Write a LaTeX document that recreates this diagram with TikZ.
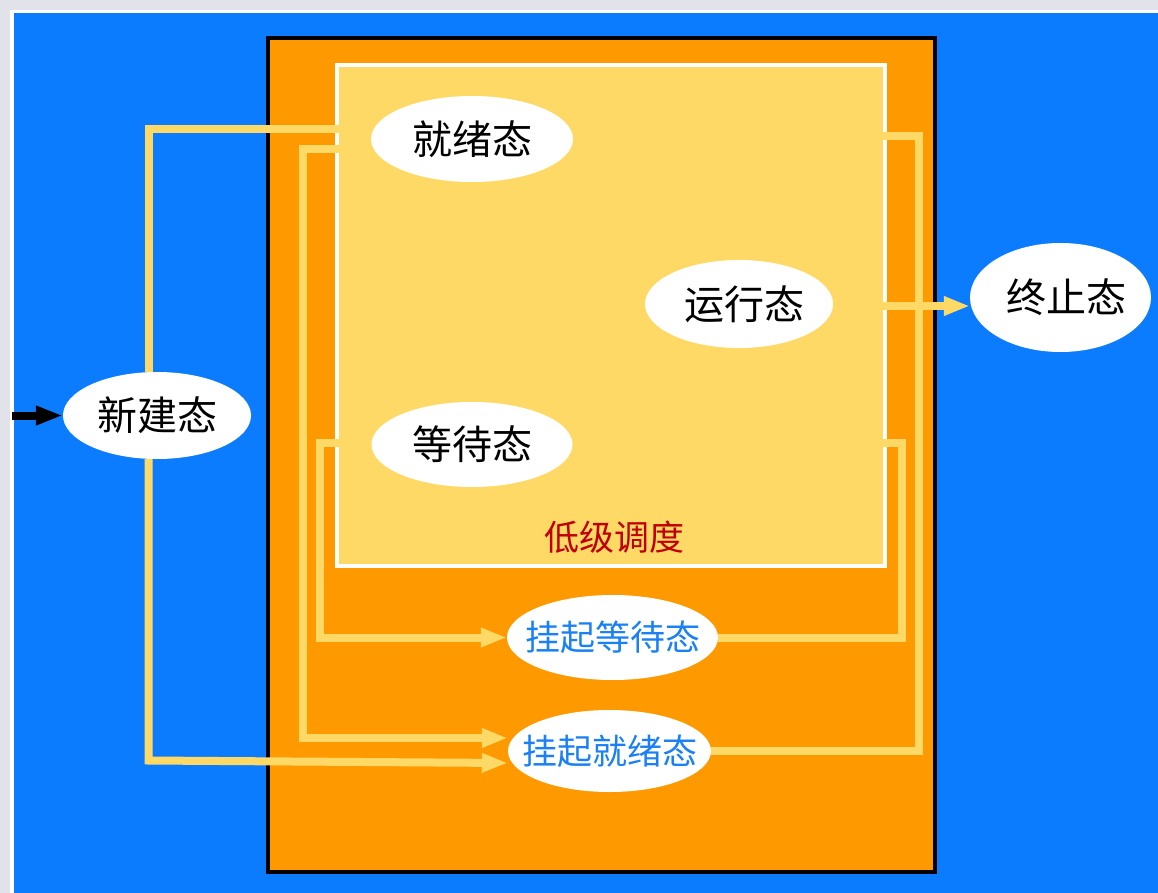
\documentclass[tikz,border=0pt]{standalone}
\usepackage{fontspec}
\setmainfont{Noto Sans CJK SC}
\usetikzlibrary{shapes.geometric,arrows.meta}
\definecolor{bgblue}{HTML}{0C7CFF}
\definecolor{orng}{HTML}{FF9900}
\definecolor{ltyel}{HTML}{FFD966}
\definecolor{linecol}{HTML}{FFD966}
\definecolor{txtblue}{HTML}{1A80F5}
\definecolor{txtred}{HTML}{C00000}
\definecolor{pagegrey}{HTML}{E2E2EA}
\begin{document}
\begin{tikzpicture}[x=1pt,y=-1pt,
  st/.style={ellipse, fill=white, inner sep=-40pt, text=black, font=\fontsize{40}{44}\selectfont},
  sus/.style={st, text=txtblue, font=\fontsize{35}{40}\selectfont},
  conn/.style={draw=linecol, line width=8pt},
  yarrow/.style={conn, -{Triangle[length=26pt,width=18pt]}},
  karrow/.style={draw=black, line width=8pt, -{Triangle[length=27pt,width=18pt]}}
]
\useasboundingbox (0,0) rectangle (1158,893);
% page background
\fill[pagegrey] (0,0) rectangle (1158,893);
\fill[white] (10,10) rectangle (1158,893);
\fill[bgblue] (14,13) rectangle (1158,893);
% orange box
\draw[line width=4.5pt, fill=orng] (268,38) rectangle (935,872);
% inner low-level scheduling box
\draw[draw=white, line width=4pt, fill=ltyel] (336.5,65.5) rectangle (884.5,566);
\node[text=txtred, font=\fontsize{35}{40}\selectfont] (lowlbl) at (614,537) {低级调度};

% states
\node[st, minimum width=202pt, minimum height=86pt] (ready) at (472,139) {就绪态};
\node[st, minimum width=188pt, minimum height=88pt] (run) at (739,304) {\hspace*{10pt}运行态};
\node[st, minimum width=181pt, minimum height=109pt] (term) at (1060.5,297.5) {\hspace*{12pt}终止态};
\node[st, minimum width=188pt, minimum height=87pt] (new) at (157,415.5) {新建态};
\node[st, minimum width=201pt, minimum height=85pt] (wait) at (472,444.5) {等待态};
\node[sus, minimum width=211pt, minimum height=85pt] (susw) at (612.5,637.5) {挂起等待态};
\node[sus, minimum width=203pt, minimum height=82pt] (susr) at (609.5,751) {挂起就绪态};

% free ends at the inner box border
\coordinate (rdyA) at (339,129);
\coordinate (rdyB) at (339,149.5);
\coordinate (wtA) at (339,442.5);
\coordinate (wtB) at (880,443);
\coordinate (rnA) at (880,136.5);
\coordinate (rnB) at (880,306);
\coordinate (src) at (12,415.5);

% connectors
\draw[conn] ([xshift=-8.5pt]new.north) |- (rdyA);
\draw[yarrow] (rdyB) -- (302.5,149.5) -- (302.5,738) -- ([yshift=13pt]susr.west);
\draw[yarrow] ([xshift=-8.5pt]new.south) -- (148.5,760.5) -- ([yshift=-12pt]susr.west);
\draw[yarrow] (wtA) -- (319.5,442.5) -- (319.5,637.5) -- (susw.west);
\draw[conn] (susw.east) -- (901.5,637.5) -- (901.5,443) -- (wtB);
\draw[conn] (susr.east) -- (918.5,751) -- (918.5,136.5) -- (rnA);
\draw[yarrow] (rnB) -- ([yshift=-8.5pt]term.west);
\draw[karrow] (src) -- (new.west);
\end{tikzpicture}
\end{document}
